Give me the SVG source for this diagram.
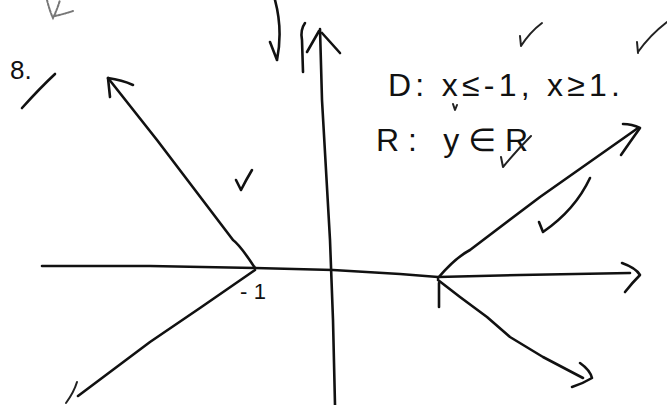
<svg xmlns="http://www.w3.org/2000/svg" width="667" height="405" viewBox="0 0 667 405">
<style>
.ln{fill:none;stroke:#111;stroke-width:2.6;stroke-linecap:round;stroke-linejoin:round}
.thin{fill:none;stroke:#222;stroke-width:2;stroke-linecap:round;stroke-linejoin:round}
.grey{fill:none;stroke:#777;stroke-width:2;stroke-linecap:round;stroke-dasharray:2 1.5}
.tx{font-family:"Liberation Sans","DejaVu Sans",sans-serif;fill:#111}
</style>
<rect width="667" height="405" fill="#fff"/>
<g id="axes">
  <path class="ln" d="M42,266 L150,266 L255,268 L333,270 L400,274 L438,277 L520,275 L630,273"/>
  <path class="ln" d="M622,263 Q636,268 640,275 Q632,283 625,292"/>
  <path class="ln" d="M320,29 L322,100 L330,240 L333,320 L335,405"/>
  <path class="ln" d="M307,52 L319,31 M322,33 Q332,44 340,53"/>
</g>
<g id="graph">
  <path class="ln" d="M255,268 Q240,245 233,240 L157,140 L108,78"/>
  <path class="ln" d="M110,97 L108,78 Q122,80 133,85"/>
  <path class="ln" d="M255,270 L200,308 L150,342 L78,396"/>
  <path class="thin" d="M77,382 Q74,392 66,403"/>
  <path class="ln" d="M438,278 Q455,258 470,250 L540,197 L638,128"/>
  <path class="ln" d="M623,124 Q632,124 640,128 Q630,142 621,155"/>
  <path class="ln" d="M438,280 L460,297 L487,317 L510,337 L543,357 L583,378"/>
  <path class="ln" d="M580,363 Q590,370 592,378 Q582,384 572,387"/>
  <path class="ln" d="M439,283 L439,307"/>
</g>
<g id="labels">
  <text class="tx" x="10" y="79" font-size="26">8.</text>
  <text class="tx" x="240" y="299" font-size="22" textLength="26" lengthAdjust="spacing">-1</text>
  <text class="tx" x="388" y="96" font-size="32" textLength="232" lengthAdjust="spacing">D: x≤-1, x≥1.</text>
  <text class="tx" x="376" y="151" font-size="32" textLength="152" lengthAdjust="spacing">R: y∈R</text>
</g>
<g id="marks">
  <path class="grey" d="M47,0 Q50,12 53,18 Q57,10 60,0 M55,16 Q64,14 73,11"/>
  <path class="ln" d="M55,74 Q40,88 22,108"/>
  <path class="ln" d="M275,0 Q283,30 277,60 M270,42 L277,60"/>
  <path class="ln" d="M305,23 Q300,30 302,40 L303,72"/>
  <path class="thin" d="M542,23 Q530,32 521,46 M520,36 L521,46"/>
  <path class="thin" d="M667,22 Q650,35 638,52 M637,42 L638,53"/>
  <path class="thin" d="M531,136 Q517,150 503,167 M501,157 L503,167"/>
  <path class="thin" d="M453,104 L455,110 L457,105"/>
  <path class="ln" d="M252,170 Q246,180 241,190 M236,180 L241,190"/>
  <path class="ln" d="M590,178 Q575,210 543,232 M539,222 L543,232"/>
</g>
</svg>
